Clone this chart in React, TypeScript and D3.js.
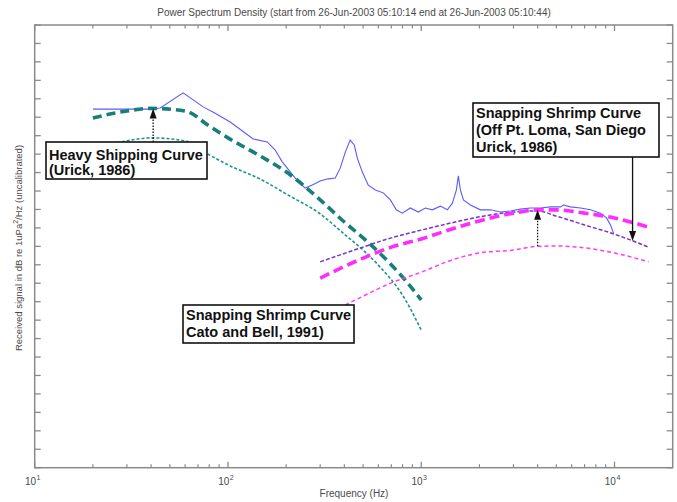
import React from "react";
import * as d3 from "d3";

// Measured power spectrum (Hz, dB)
const specFreq = [20, 39.5, 44.6, 58.6, 74.4, 85.8, 102.7, 135, 159.6, 175.5, 190.9, 210, 231, 251, 273, 300, 330, 359, 381, 405, 429, 450, 467, 495, 532, 579, 636, 692, 743, 798, 878, 966, 1050, 1141, 1256, 1365, 1449, 1520, 1556, 1594, 1652, 1796, 2023, 2280, 2568, 2893, 3260, 3673, 4138, 4663, 5253, 5445, 5916, 6668, 7510, 8461, 9090, 9535, 9881];
const specDb = [97.2, 97.2, 97.5, 101.6, 97.8, 96.1, 93.7, 89.1, 88.3, 86.1, 82.9, 80.2, 77.5, 75.8, 76.6, 77.7, 78.3, 78.5, 81.2, 85.6, 88.8, 87.5, 83.9, 80.2, 76.6, 75.3, 74.5, 72.6, 69.9, 69.0, 70.4, 69.3, 70.4, 69.9, 70.9, 69.9, 71.7, 75.3, 79.1, 75.3, 72.6, 71.2, 69.9, 69.9, 69.3, 69.6, 70.1, 70.4, 70.4, 70.7, 70.7, 71.2, 70.7, 70.4, 69.9, 69.0, 67.7, 65.8, 63.6];

// Heavy shipping reference curves (Urick, 1986)
const shipFreq = [20, 30, 40, 60, 80, 100, 150, 200, 300, 400, 500, 600, 800, 1000];
const shipUpperDb = [94.8, 96.7, 97.4, 96.7, 92.6, 89.4, 84.2, 80.2, 72.6, 66.6, 62.3, 58.5, 51.7, 45.5];
const shipLowerDb = [86.1, 88.6, 89.4, 88.6, 84.8, 82.1, 78.0, 74.2, 68.8, 63.3, 59.0, 54.9, 46.8, 37.3];

// Snapping shrimp reference curves
const shrimpFreq = [300, 500, 700, 1000, 1500, 2000, 3000, 4000, 5000, 7000, 10000, 15000];
const shrimpShiftedDb = [51.4, 56.8, 59.8, 62.0, 65.0, 66.9, 69.0, 69.9, 69.9, 69.0, 67.7, 65.2];
const shrimpUrickDb = [55.8, 59.8, 62.3, 64.4, 66.6, 68.0, 69.3, 69.6, 68.2, 65.8, 63.3, 59.8];
const shrimpCatoDb = [40.6, 46.5, 50.1, 53.0, 56.6, 58.2, 59.0, 60.0, 60.1, 59.6, 58.2, 55.8];

// Axis ranges and ticks
const xDomain = [10, 20000];
const yDomain = [0, 120];
const decades = [10, 100, 1000, 10000];
const decadeExp = ["1", "2", "3", "4"];
const yTickStep = 5;

const W = 677;
const H = 502;
const left = 34.7, right = 672.7, top = 25, bottom = 467.7;

const FONT = "Arial, 'Liberation Sans', Helvetica, sans-serif";

type P = { f: number; v: number };
const zip = (fs: number[], vs: number[]): P[] => fs.map((f, i) => ({ f, v: vs[i] }));

export default function App() {
  const x = d3.scaleLog().domain(xDomain).range([left, right]);
  const y = d3.scaleLinear().domain(yDomain).range([bottom, top]);

  const straight = d3.line<P>().x(d => x(d.f)).y(d => y(d.v));
  const smooth = d3.line<P>().x(d => x(d.f)).y(d => y(d.v)).curve(d3.curveMonotoneX);

  const minor: number[] = [];
  decades.forEach(d => {
    for (let k = 2; k <= 9; k++) if (d * k < xDomain[1]) minor.push(d * k);
  });
  const yTicks = d3.range(yDomain[0], yDomain[1] + 0.001, yTickStep);

  const axisColor = "#8a8a8a";
  const textColor = "#4a4a4a";

  const interp = (fs: number[], vs: number[], f: number) => {
    const lf = Math.log10(f);
    for (let i = 0; i < fs.length - 1; i++) {
      const a = Math.log10(fs[i]), b = Math.log10(fs[i + 1]);
      if (lf >= a && lf <= b) return vs[i] + ((lf - a) / (b - a)) * (vs[i + 1] - vs[i]);
    }
    return vs[vs.length - 1];
  };

  // annotation arrows
  const a1x = x(41), a1tip = y(interp(shipFreq, shipUpperDb, 41));
  const a2x = x(4000), a2tip = y(interp(shrimpFreq, shrimpShiftedDb, 4000)), a2base = y(interp(shrimpFreq, shrimpCatoDb, 4000));
  const a3x = x(12400), a3tip = y(interp(shrimpFreq, shrimpUrickDb, 12400));

  const headUp = (cx: number, tipY: number) => `M${cx},${tipY} L${cx - 3.5},${tipY + 10} L${cx + 3.5},${tipY + 10} Z`;
  const headDown = (cx: number, tipY: number) => `M${cx},${tipY} L${cx - 3.5},${tipY - 10} L${cx + 3.5},${tipY - 10} Z`;

  const boxFont = { fontFamily: FONT, fontWeight: 700, fontSize: 14.5, fill: "#111" } as const;

  return (
    <svg width={W} height={H} style={{ position: "absolute", left: 0, top: 0, background: "#fff" }}>
      <rect x={0} y={0} width={W} height={H} fill="#fff" />

      {/* title */}
      <text x={354} y={16} textAnchor="middle" fontFamily={FONT} fontSize={10} fill={textColor}>
        Power Spectrum Density (start from 26-Jun-2003 05:10:14 end at 26-Jun-2003 05:10:44)
      </text>

      {/* curves */}
      <path d={straight(zip(specFreq, specDb)) || ""} fill="none" stroke="#5a5aff" strokeWidth={1.1} />
      <path d={smooth(zip(shipFreq, shipLowerDb)) || ""} fill="none" stroke="#1b958c" strokeWidth={1.6} strokeDasharray="3 2" />
      <path d={smooth(zip(shipFreq, shipUpperDb)) || ""} fill="none" stroke="#177f78" strokeWidth={3.6} strokeDasharray="9 5" />
      <path d={smooth(zip(shrimpFreq, shrimpCatoDb)) || ""} fill="none" stroke="#ff3cf0" strokeWidth={1.5} strokeDasharray="4 3" />
      <path d={smooth(zip(shrimpFreq, shrimpUrickDb)) || ""} fill="none" stroke="#7a33c4" strokeWidth={1.5} strokeDasharray="4 2" />
      <path d={smooth(zip(shrimpFreq, shrimpShiftedDb)) || ""} fill="none" stroke="#ff2cff" strokeWidth={3.6} strokeDasharray="10 5" />

      {/* axes box */}
      <rect x={left} y={top} width={right - left} height={bottom - top} fill="none" stroke={axisColor} strokeWidth={1.5} />
      {yTicks.map(t => (
        <g key={"y" + t} stroke={axisColor} strokeWidth={1.3}>
          <line x1={left} x2={left + 6} y1={y(t)} y2={y(t)} />
          <line x1={right} x2={right - 6} y1={y(t)} y2={y(t)} />
        </g>
      ))}
      {decades.map(t => (
        <g key={"d" + t} stroke={axisColor} strokeWidth={1.3}>
          <line x1={x(t)} x2={x(t)} y1={bottom} y2={bottom - 6} />
          <line x1={x(t)} x2={x(t)} y1={top} y2={top + 6} />
        </g>
      ))}
      {minor.map(t => (
        <g key={"m" + t} stroke={axisColor} strokeWidth={1.2}>
          <line x1={x(t)} x2={x(t)} y1={bottom} y2={bottom - 3.5} />
          <line x1={x(t)} x2={x(t)} y1={top} y2={top + 3.5} />
        </g>
      ))}
      {decades.map((t, i) => (
        <text key={"l" + t} x={x(t) - 2} y={485} textAnchor="middle" fontFamily={FONT} fontSize={10} fill={textColor}>
          10
          <tspan dx={0.5} dy={-5} fontSize={7}>{decadeExp[i]}</tspan>
        </text>
      ))}
      <text x={354} y={497} textAnchor="middle" fontFamily={FONT} fontSize={10} fill={textColor}>
        Frequency (Hz)
      </text>
      <text transform={`translate(22,248) rotate(-90)`} textAnchor="middle" fontFamily={FONT} fontSize={9.5} fill={textColor}>
        Received signal in dB re 1uPa
        <tspan dy={-4} fontSize={7}>2</tspan>
        <tspan dy={4}>/Hz (uncalibrated)</tspan>
      </text>

      {/* heavy shipping annotation */}
      <line x1={a1x} x2={a1x} y1={142} y2={a1tip + 10} stroke="#111" strokeWidth={1.3} strokeDasharray="1.5 1.5" />
      <path d={headUp(a1x, a1tip)} fill="#111" />
      <rect x={46} y={142} width={161} height={37} fill="#fff" stroke="#111" strokeWidth={1.6} />
      <text x={49} y={160} {...boxFont}>Heavy Shipping Curve</text>
      <text x={49} y={175} {...boxFont}>(Urick, 1986)</text>

      {/* Cato and Bell annotation */}
      <rect x={183} y={305} width={171} height={38} fill="#fff" stroke="#111" strokeWidth={1.6} />
      <text x={186} y={319.5} {...boxFont}>Snapping Shrimp Curve</text>
      <text x={186} y={336.5} {...boxFont}>Cato and Bell, 1991)</text>

      {/* shrimp shift arrow */}
      <line x1={a2x} x2={a2x} y1={a2base} y2={a2tip + 10} stroke="#111" strokeWidth={1.3} strokeDasharray="1.5 1.5" />
      <path d={headUp(a2x, a2tip)} fill="#111" />

      {/* Pt. Loma annotation */}
      <rect x={473} y={103} width={186} height={54} fill="#fff" stroke="#111" strokeWidth={1.6} />
      <text x={476} y={118} {...boxFont}>Snapping Shrimp Curve</text>
      <text x={476} y={135} {...boxFont}>(Off Pt. Loma, San Diego</text>
      <text x={476} y={152} {...boxFont}>Urick, 1986)</text>
      <line x1={a3x} x2={a3x} y1={157} y2={a3tip - 10} stroke="#111" strokeWidth={1.3} />
      <path d={headDown(a3x, a3tip)} fill="#111" />
    </svg>
  );
}
